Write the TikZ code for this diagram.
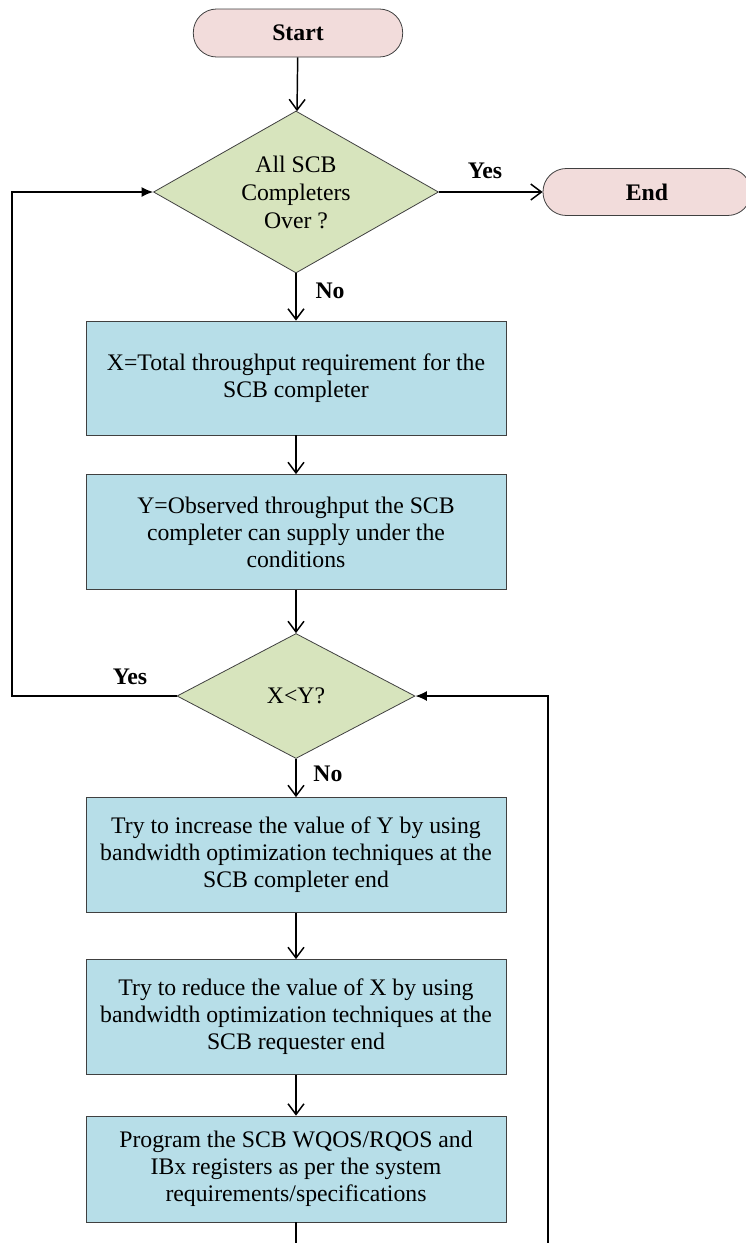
\documentclass[tikz,border=0pt]{standalone}
\usepackage{fontspec}
\setmainfont{Liberation Serif}
\usetikzlibrary{shapes.geometric,arrows.meta}

\definecolor{termpink}{HTML}{F2DCDB}
\definecolor{condgreen}{HTML}{D7E4BD}
\definecolor{stepblue}{HTML}{B7DEE8}
\definecolor{edgegray}{HTML}{404040}

\begin{document}
\begin{tikzpicture}[x=0.75pt,y=-0.75pt, % one unit = one pixel of the sketch
    font=\fontsize{17.8}{20.25}\selectfont,
    term/.style={draw=edgegray,fill=termpink,line width=0.6pt,rounded corners=17.5pt,
        minimum width=157pt,minimum height=36pt,inner sep=0pt,font=\fontsize{17.8}{20.25}\selectfont\bfseries},
    cond/.style={diamond,draw=edgegray,fill=condgreen,line width=0.6pt,aspect=1.76,
        inner sep=0pt,align=center,font=\fontsize{17.8}{21}\selectfont},
    stepbox/.style={draw=edgegray,fill=stepblue,line width=0.6pt,minimum width=315pt,
        inner sep=0pt,align=center},
    lbl/.style={font=\fontsize{17.8}{20.25}\selectfont\bfseries,inner sep=0pt},
    flow/.style={-{Straight Barb[length=2.8mm,width=4.2mm]},line width=1.1pt},
    back/.style={-{Latex[length=3mm,width=2.6mm]},line width=1.1pt}]

    % page frame
    \useasboundingbox (0,0) rectangle (746,1243);

    % Terminals
    \node[term] (start) at (298,33) {Start};
    \node[term,minimum width=156pt,minimum height=35.25pt] (endnode) at (647,192) {End};

    % Decisions
    \node[cond,minimum width=213.75pt,minimum height=121.5pt] (cond1) at (296,192)
        {All SCB\\Completers\\Over ?};
    \node[cond,minimum width=178.5pt,minimum height=93.75pt] (cond2) at (296,696) {X<Y?};

    % Process steps
    \node[stepbox,minimum height=85.5pt] (xreq) at (296,378)
        {X=Total throughput requirement for the\\SCB completer};
    \node[stepbox,minimum height=86.25pt] (yobs) at (296,532)
        {Y=Observed throughput the SCB\\completer can supply under the\\conditions};
    \node[stepbox,minimum height=86.25pt] (incy) at (296,855)
        {Try to increase the value of Y by using\\bandwidth optimization techniques at the\\SCB completer end};
    \node[stepbox,minimum height=86.25pt] (redx) at (296,1017)
        {Try to reduce the value of X by using\\bandwidth optimization techniques at the\\SCB requester end};
    \node[stepbox,minimum height=79.5pt] (prog) at (296,1169)
        {Program the SCB WQOS/RQOS and\\IBx registers as per the system\\requirements/specifications};

    % Branch labels
    \node[lbl] (yes1) at (485,171) {Yes};
    \node[lbl] (no1) at (330,291) {No};
    \node[lbl] (yes2) at (130,677) {Yes};
    \node[lbl] (no2) at (328,774) {No};

    % Loop corners and free ends
    \coordinate (lp) at (12,696);
    \coordinate (lq) at (12,192);
    \coordinate (rb) at (548,1243);
    \coordinate (rt) at (548,696);
    \coordinate (pb) at (296,1243);

    % Main flow
    \draw[flow] (start) -- (cond1);
    \draw[flow] (cond1.east) -- (endnode.west);
    \draw[flow] (cond1) -- (xreq);
    \draw[flow] (xreq) -- (yobs);
    \draw[flow] (yobs) -- (cond2);
    \draw[flow] (cond2) -- (incy);
    \draw[flow] (incy) -- (redx);
    \draw[flow] (redx) -- (prog);
    \draw[line width=1.1pt] (prog.south) -- (pb);

    % Feedback lines
    \draw[back] (cond2.west) -- (lp) -- (lq) -- (cond1.west);
    \draw[back] (rb) -- (rt) -- (cond2.east);
\end{tikzpicture}
\end{document}
